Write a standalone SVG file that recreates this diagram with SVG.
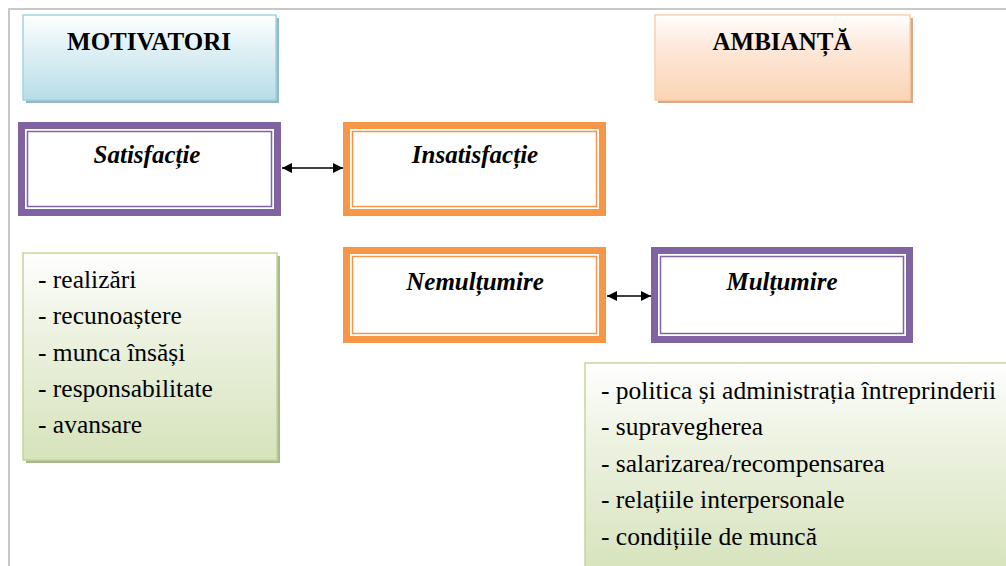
<svg xmlns="http://www.w3.org/2000/svg" width="1006" height="566" viewBox="0 0 1006 566">
<defs>
<linearGradient id="gBlue" x1="0" y1="0" x2="0" y2="1"><stop offset="0" stop-color="#ffffff"/><stop offset="0.35" stop-color="#e3f2f6"/><stop offset="1" stop-color="#b7dde8"/></linearGradient>
<linearGradient id="gOrange" x1="0" y1="0" x2="0" y2="1"><stop offset="0" stop-color="#ffffff"/><stop offset="0.35" stop-color="#fde9dc"/><stop offset="1" stop-color="#fbd4b4"/></linearGradient>
<linearGradient id="gGreen" x1="0" y1="0" x2="0" y2="1"><stop offset="0" stop-color="#ffffff"/><stop offset="0.35" stop-color="#eef3e3"/><stop offset="1" stop-color="#d6e3bc"/></linearGradient>
<marker id="ah" viewBox="0 0 10 10" refX="10" refY="5" markerWidth="10" markerHeight="10" markerUnits="userSpaceOnUse" orient="auto-start-reverse"><path d="M0,0 L10,5 L0,10 z" fill="#000"/></marker>
</defs>
<style>
text{font-family:'Liberation Serif','Times New Roman','DejaVu Serif',serif}
.title{font-weight:bold;font-size:25px;fill:#000;text-anchor:middle}
.lbl{font-weight:bold;font-style:italic;font-size:25px;fill:#000;text-anchor:middle}
.item{font-size:25.5px;fill:#000}
.pOuter{fill:#fff;stroke:#8064a2;stroke-width:7}
.pInner{fill:none;stroke:#8064a2;stroke-width:1.5}
.oOuter{fill:#fff;stroke:#f79646;stroke-width:7}
.oInner{fill:none;stroke:#f79646;stroke-width:1.5}
.conn{stroke:#000;stroke-width:1.5;fill:none}
</style>
<rect width="1006" height="566" fill="#fff"/>
<path d="M9,566 V9 H1006" fill="none" stroke="#c8c8c8" stroke-width="2"/>

<g id="motivatori">
<rect x="26" y="18" width="253" height="85" fill="#93b9c3"/>
<rect x="23" y="15" width="253" height="85" fill="url(#gBlue)" stroke="#a5d3df" stroke-width="1.5"/>
<text class="title" x="149" y="50">MOTIVATORI</text>
</g>

<g id="ambianta">
<rect x="658" y="18" width="255" height="85" fill="#d9a887"/>
<rect x="655" y="15" width="255" height="85" fill="url(#gOrange)" stroke="#fbcfa9" stroke-width="1.5"/>
<text class="title" x="782" y="50">AMBIANȚĂ</text>
</g>

<g id="satisfactie">
<rect class="pOuter" x="21.5" y="125.5" width="256" height="87"/>
<rect class="pInner" x="27.5" y="131.5" width="244" height="75"/>
<text class="lbl" x="147" y="163">Satisfacție</text>
</g>

<g id="insatisfactie">
<rect class="oOuter" x="346.5" y="125.5" width="256" height="87"/>
<rect class="oInner" x="352.5" y="131.5" width="244" height="75"/>
<text class="lbl" x="475" y="163">Insatisfacție</text>
</g>

<g id="nemultumire">
<rect class="oOuter" x="346.5" y="250.5" width="256" height="89"/>
<rect class="oInner" x="352.5" y="256.5" width="244" height="77"/>
<text class="lbl" x="475" y="290">Nemulțumire</text>
</g>

<g id="multumire">
<rect class="pOuter" x="654.5" y="250.5" width="255" height="89"/>
<rect class="pInner" x="660.5" y="256.5" width="243" height="77"/>
<text class="lbl" x="782" y="290">Mulțumire</text>
</g>

<g id="motivatori-list">
<rect x="26" y="256" width="254" height="207" fill="#a9b88e"/>
<rect x="23" y="253" width="254" height="207" fill="url(#gGreen)" stroke="#c3d69b" stroke-width="1.5"/>
<text class="item" x="38" y="288">- realizări</text>
<text class="item" x="38" y="324">- recunoaștere</text>
<text class="item" x="38" y="361">- munca însăși</text>
<text class="item" x="38" y="397">- responsabilitate</text>
<text class="item" x="38" y="433">- avansare</text>
</g>

<g id="ambianta-list">
<rect x="588" y="366" width="430" height="210" fill="#a9b88e"/>
<rect x="585" y="363" width="430" height="210" fill="url(#gGreen)" stroke="#c3d69b" stroke-width="1.5"/>
<text class="item" x="601" y="399">- politica și administrația întreprinderii</text>
<text class="item" x="601" y="435">- supravegherea</text>
<text class="item" x="601" y="472">- salarizarea/recompensarea</text>
<text class="item" x="601" y="508">- relațiile interpersonale</text>
<text class="item" x="601" y="545">- condițiile de muncă</text>
</g>

<g id="connectors">
<line class="conn" x1="282" y1="168" x2="343" y2="168" marker-start="url(#ah)" marker-end="url(#ah)"/>
<line class="conn" x1="607" y1="296" x2="651" y2="296" marker-start="url(#ah)" marker-end="url(#ah)"/>
</g>
</svg>
